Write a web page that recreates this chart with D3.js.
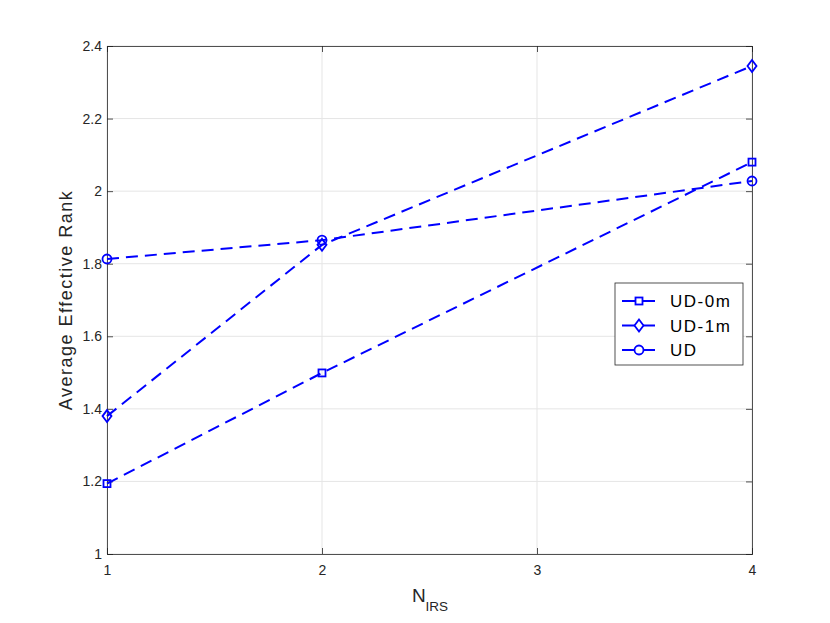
<!DOCTYPE html>
<html>
<head>
<meta charset="utf-8">
<script src="https://cdn.jsdelivr.net/npm/d3@7"></script>
<style>
	body { margin: 0; background: #fff; }
	text { font-family: "Liberation Sans", Arial, sans-serif; }
</style>
</head>
<body>
<div id="chart"></div>
<script>

const nIRS = [1, 2, 4];
const ud0m = [1.194, 1.499, 2.080];
const ud1m = [1.380, 1.852, 2.345];
const ud = [1.813, 1.865, 2.028];
const seriesNames = ['UD-0m', 'UD-1m', 'UD'];
const seriesMarkers = ['square', 'diamond', 'circle'];
const xTicks = [1, 2, 3, 4];
const yTicks = [1, 1.2, 1.4, 1.6, 1.8, 2, 2.2, 2.4];

const width = 830, height = 623;
const margin = {left: 107, right: 78, top: 46, bottom: 69};
const blue = '#0000ff';
const axisColor = '#262626';

const svg = d3.select('#chart').append('svg')
	.attr('width', width)
	.attr('height', height);

const xScale = d3.scaleLinear()
	.domain([1, 4])
	.range([margin.left, width - margin.right]);

const yScale = d3.scaleLinear()
	.domain([1, 2.4])
	.range([height - margin.bottom, margin.top]);

// grid
svg.append('g')
	.selectAll('line')
	.data(xTicks)
	.enter().append('line')
		.attr('x1', d => xScale(d))
		.attr('x2', d => xScale(d))
		.attr('y1', yScale(1))
		.attr('y2', yScale(2.4))
		.attr('stroke', '#e5e5e5');

svg.append('g')
	.selectAll('line')
	.data(yTicks)
	.enter().append('line')
		.attr('x1', xScale(1))
		.attr('x2', xScale(4))
		.attr('y1', d => yScale(d))
		.attr('y2', d => yScale(d))
		.attr('stroke', '#e5e5e5');

// axes, MATLAB style ticks pointing inward
const xAxis = d3.axisBottom(xScale).tickValues(xTicks).tickSize(-6).tickPadding(11).tickFormat(d3.format('d'));
const yAxis = d3.axisLeft(yScale).tickValues(yTicks).tickSize(-6).tickPadding(5).tickFormat(d => d3.format('.1f')(d).replace(/\.0$/, ''));

svg.append('g')
	.attr('transform', `translate(0, ${yScale(1)})`)
	.call(xAxis);
svg.append('g')
	.attr('transform', `translate(${xScale(1)}, 0)`)
	.call(yAxis);

svg.append('g')
	.attr('transform', `translate(0, ${yScale(2.4)})`)
	.call(d3.axisTop(xScale).tickValues(xTicks).tickSize(-6).tickFormat(''));
svg.append('g')
	.attr('transform', `translate(${xScale(4)}, 0)`)
	.call(d3.axisRight(yScale).tickValues(yTicks).tickSize(-6).tickFormat(''));

svg.selectAll('.domain, .tick line')
	.attr('stroke', axisColor)
	.attr('stroke-width', 0.8);
svg.selectAll('.tick text')
	.attr('fill', axisColor)
	.style('font-size', '14px');

// axis labels
const xl = svg.append('text')
	.attr('x', 430)
	.attr('y', 602)
	.attr('text-anchor', 'middle')
	.attr('fill', axisColor)
	.style('font-size', '19px');
xl.append('tspan').text('N');
xl.append('tspan').attr('dy', 9).style('font-size', '13.5px').text('IRS');

svg.append('text')
	.attr('transform', `translate(72, ${(yScale(1) + yScale(2.4)) / 2}) rotate(-90)`)
	.attr('text-anchor', 'middle')
	.attr('fill', axisColor)
	.style('font-size', '18px')
	.style('letter-spacing', '1.5px')
	.text('Average Effective Rank');

// series
const series = [ud0m, ud1m, ud];
const line = d3.line()
	.x((d, i) => xScale(nIRS[i]))
	.y(d => yScale(d));

function drawMarker(g, type, x, y) {
	if (type == 'square') {
		g.append('rect')
			.attr('x', x - 3.5).attr('y', y - 3.5)
			.attr('width', 7).attr('height', 7);
	} else if (type == 'diamond') {
		g.append('path')
			.attr('d', `M${x},${y - 6}L${x + 4.5},${y}L${x},${y + 6}L${x - 4.5},${y}Z`);
	} else {
		g.append('circle')
			.attr('cx', x).attr('cy', y).attr('r', 4.5);
	}
}

series.forEach(function(values, s) {
	svg.append('path')
		.datum(values)
		.attr('d', line)
		.attr('fill', 'none')
		.attr('stroke', blue)
		.attr('stroke-width', 2)
		.attr('stroke-dasharray', '12,7');

	const mg = svg.append('g')
		.attr('fill', 'none')
		.attr('stroke', blue)
		.attr('stroke-width', 1.8);
	values.forEach(function(v, i) {
		drawMarker(mg, seriesMarkers[s], xScale(nIRS[i]), yScale(v));
	});
});

// legend
const legend = svg.append('g').attr('transform', 'translate(615, 283)');
legend.append('rect')
	.attr('width', 128)
	.attr('height', 82)
	.attr('fill', '#fff')
	.attr('stroke', axisColor)
	.attr('stroke-width', 0.8);

seriesNames.forEach(function(name, i) {
	const yy = 18 + i * 24.5;
	legend.append('line')
		.attr('x1', 7).attr('x2', 40)
		.attr('y1', yy).attr('y2', yy)
		.attr('stroke', blue)
		.attr('stroke-width', 2);
	const mg = legend.append('g')
		.attr('fill', '#fff')
		.attr('stroke', blue)
		.attr('stroke-width', 1.8);
	drawMarker(mg, seriesMarkers[i], 24, yy);
	legend.append('text')
		.attr('x', 55)
		.attr('y', yy + 6)
		.attr('fill', '#000')
		.style('font-size', '17px')
		.style('letter-spacing', '1.5px')
		.text(name);
});

</script>
</body>
</html>
